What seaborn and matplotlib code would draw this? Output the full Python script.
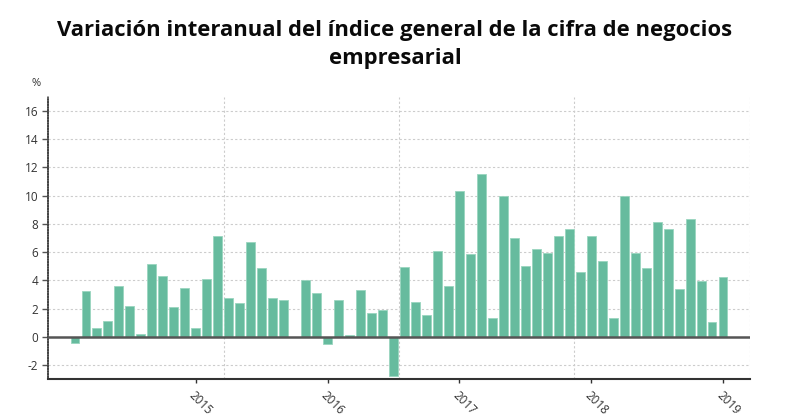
import numpy as np
import pandas as pd
import matplotlib
matplotlib.use("Agg")
import matplotlib.pyplot as plt
import seaborn as sns

# Monthly values, Feb 2014 .. Jan 2019 (year-on-year %)
values = [
    -0.45, 3.23, 0.59, 1.08, 3.61, 2.17, 0.19, 5.19, 4.34, 2.08, 3.47,           # Feb-Dec 2014
    0.59, 4.08, 7.12, 2.76, 2.41, 6.70, 4.86, 2.78, 2.59, -0.05, 4.01, 3.09,     # 2015
    -0.50, 2.62, 0.12, 3.28, 1.65, 1.91, -2.76, 4.91, 2.43, 1.56, 6.06, 3.63,    # 2016
    10.31, 5.90, 11.56, 1.30, 9.98, 7.00, 4.98, 6.20, 5.97, 7.12, 7.62, 4.58,    # 2017
    7.17, 5.40, 1.30, 10.00, 5.97, 4.86, 8.16, 7.67, 3.40, 8.33, 3.92, 1.01,     # 2018
    4.25,                                                                        # Jan 2019
]
year_labels = ["2015", "2016", "2017", "2018", "2019"]
year_positions = [11, 23, 35, 47, 59]
y_ticks = [-2, 0, 2, 4, 6, 8, 10, 12, 14, 16]
title = "Variación interanual del índice general de la cifra de negocios\nempresarial"

df = pd.DataFrame({"idx": np.arange(len(values)), "value": values})

sns.set_theme(style="white")
plt.rcParams["font.family"] = ["Open Sans", "DejaVu Sans"]

fig = plt.figure(figsize=(7.9, 4.2), dpi=100)
ax = fig.add_axes([48 / 790, 41 / 420, 702 / 790, 282 / 420])

sns.barplot(data=df, x="idx", y="value", color="#66BB9E", width=0.8,
            edgecolor="#9AD6BF", linewidth=0.6, saturation=1, ax=ax, zorder=3)

ax.set_xlim(-2.45, 61.45)
ax.set_ylim(-3, 17)

# grid
for yv in y_ticks:
    if yv != 0:
        ax.axhline(yv, color="#cccccc", linestyle=(0, (2, 2)), linewidth=0.8, zorder=1)
for xv in np.linspace(-2.45, 61.45, 5)[1:]:
    ax.axvline(xv, color="#cccccc", linestyle=(0, (2, 2)), linewidth=0.8, zorder=1)
ax.axhline(0, color="#555555", linewidth=1.8, zorder=4)

ax.set_yticks(y_ticks)
ax.set_yticklabels([str(v) for v in y_ticks], fontsize=8.5, color="#333333")
ax.set_xticks(year_positions)
ax.set_xticklabels(year_labels, rotation=-45, ha="left", rotation_mode="anchor",
                   fontsize=8.5, color="#333333")
ax.tick_params(axis="y", which="major", left=True, length=4, width=1, color="#555555", pad=3)
ax.tick_params(axis="x", which="major", bottom=True, length=3, width=1, color="#333333", pad=4)

ax.set_xlabel("")
ax.set_ylabel("")
for s in ["top", "right"]:
    ax.spines[s].set_visible(False)
ax.spines["left"].set_color("#444444")
ax.spines["left"].set_linewidth(1.2)
ax.spines["left"].set_linestyle((0, (1, 0.6)))
ax.spines["bottom"].set_color("#333333")
ax.spines["bottom"].set_linewidth(1.5)

fig.text(32 / 790, 1 - 84 / 420, "%", fontsize=8, color="#333333", ha="left", va="center")
fig.text(0.5, 1 - 44.5 / 420, title, fontsize=15.8, fontweight="bold", color="#0a0a0a",
         ha="center", va="center", linespacing=1.38)

fig.savefig("out.png", dpi=100)
